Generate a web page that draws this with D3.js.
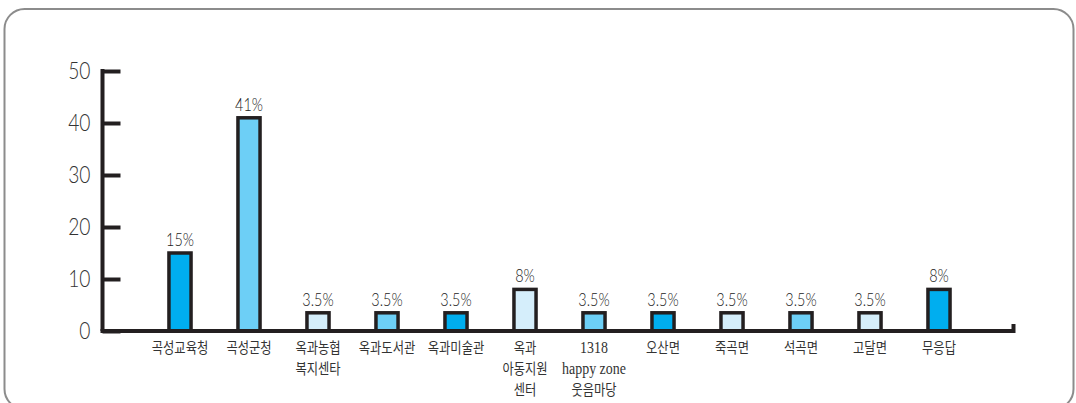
<!DOCTYPE html>
<html>
<head>
<meta charset="utf-8">
<script src="https://cdn.jsdelivr.net/npm/d3@7"></script>
<style>
  body { margin: 0; background: #fff; }
</style>
</head>
<body>
<div id="chart"></div>
<script>
// Data
const categories = ["곡성교육청", "곡성군청", "옥과농협\n복지센타", "옥과도서관", "옥과미술관",
  "옥과\n아동지원\n센터", "1318\nhappy zone\n웃음마당", "오산면", "죽곡면", "석곡면", "고달면", "무응답"];
const values = [15, 41, 3.5, 3.5, 3.5, 8, 3.5, 3.5, 3.5, 3.5, 3.5, 8];
const tones = ["dark", "mid", "light", "mid", "dark", "light", "mid", "dark", "light", "mid", "light", "dark"];
const yTicks = [0, 10, 20, 30, 40, 50];

const width = 1076, height = 403;
const ink = "#231f20";
const thinFont = "Lato, 'Liberation Sans Narrow', sans-serif";

const svg = d3.select("#chart")
  .append("svg")
  .attr("width", width)
  .attr("height", height);

// Rounded frame
svg.append("rect")
  .attr("x", 4.5)
  .attr("y", 9)
  .attr("width", 1069)
  .attr("height", 400)
  .attr("rx", 20)
  .attr("fill", "none")
  .attr("stroke", "#8c8c8c")
  .attr("stroke-width", 2);

const y = d3.scaleLinear()
  .domain([0, 50])
  .range([331, 71]);

const x = d3.scaleBand()
  .domain(categories)
  .range([145.5, 973.5])
  .paddingInner(0.68)
  .paddingOuter(0.34);

const color = d3.scaleOrdinal()
  .domain(["dark", "mid", "light"])
  .range(["#00aeef", "#6dcff6", "#d5eefb"]);

// Y axis
const yAxis = svg.append("g")
  .attr("transform", "translate(102.5,0)")
  .call(d3.axisLeft(y).tickValues(yTicks).tickSize(-18).tickSizeOuter(0).tickPadding(15));

yAxis.select(".domain")
  .attr("stroke", ink)
  .attr("stroke-width", 4)
  .attr("d", `M0,${y(50) - 2}V${y(0)}`);
yAxis.selectAll(".tick line")
  .attr("stroke", ink)
  .attr("stroke-width", 4);
yAxis.selectAll(".tick text")
  .attr("transform", "scale(0.8,1)")
  .attr("font-family", thinFont)
  .attr("font-weight", 300)
  .attr("font-size", 24)
  .attr("fill", "#333");

// Bars
svg.selectAll(".bar")
  .data(values)
  .join("rect")
  .attr("class", "bar")
  .attr("x", (d, i) => x(categories[i]))
  .attr("y", d => y(d))
  .attr("width", x.bandwidth())
  .attr("height", d => y(0) - y(d))
  .attr("fill", (d, i) => color(tones[i]))
  .attr("stroke", ink)
  .attr("stroke-width", 3.5);

// X baseline with end tick
svg.append("path")
  .attr("d", `M100.5,${y(0)}H1013.5V${y(0) - 7}`)
  .attr("fill", "none")
  .attr("stroke", ink)
  .attr("stroke-width", 4);

// Value labels
svg.selectAll(".val")
  .data(values)
  .join("text")
  .attr("class", "val")
  .attr("transform", (d, i) => `translate(${x(categories[i]) + x.bandwidth() / 2},${y(d) - 7}) scale(0.8,1)`)
  .attr("text-anchor", "middle")
  .attr("font-family", thinFont)
  .attr("font-weight", 300)
  .attr("font-size", 18)
  .attr("fill", "#222")
  .text(d => d + "%");

// Category labels
const labels = svg.selectAll(".cat")
  .data(categories)
  .join("g")
  .attr("class", "cat")
  .attr("transform", d => `translate(${x(d) + x.bandwidth() / 2},353) scale(0.82,1)`);

labels.selectAll("text")
  .data(d => d.split("\n"))
  .join("text")
  .attr("y", (d, i) => i * 21)
  .attr("text-anchor", "middle")
  .attr("font-family", d => /^[\x00-\x7f]+$/.test(d) ? "'Liberation Serif', serif" : "'Noto Sans CJK KR', sans-serif")
  .attr("font-size", d => /^[\x00-\x7f]+$/.test(d) ? 17 : 15)
  .attr("fill", "#333")
  .text(d => d);
</script>
</body>
</html>
